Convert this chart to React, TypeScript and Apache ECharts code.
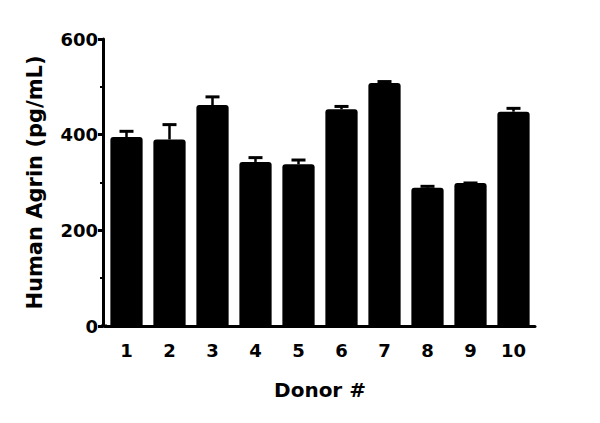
import React, { useEffect, useRef } from "react";
import * as echarts from "echarts";

const donors = ["1", "2", "3", "4", "5", "6", "7", "8", "9", "10"];
const means = [395, 390, 462, 343, 338, 453, 508, 289, 299, 448];
const sems = [12, 31, 17, 9, 9, 6, 3, 3, 0, 7];
const yTicks = { min: 0, max: 600, interval: 200 };

const FONT = "'DejaVu Sans', sans-serif";

export default function App() {
  const ref = useRef<HTMLDivElement>(null);
  useEffect(() => {
    const chart = echarts.init(ref.current!, null, { renderer: "svg" });
    chart.setOption({
      animation: false,
      backgroundColor: "#fff",
      grid: { left: 105, right: 65, top: 39, bottom: 97 },
      xAxis: {
        type: "category",
        data: donors,
        name: "Donor #",
        nameLocation: "middle",
        nameGap: 54,
        nameTextStyle: { fontFamily: FONT, fontWeight: "bold", fontSize: 20, color: "#000" },
        axisLine: { lineStyle: { color: "#000", width: 3 } },
        axisTick: { alignWithLabel: true, length: 7, lineStyle: { color: "#000", width: 3 } },
        axisLabel: { fontFamily: FONT, fontWeight: "bold", fontSize: 18, color: "#000", margin: 15 },
      },
      yAxis: {
        type: "value",
        min: yTicks.min,
        max: yTicks.max,
        interval: yTicks.interval,
        offset: 2,
        name: "Human Agrin (pg/mL)",
        nameLocation: "middle",
        nameGap: 58,
        nameTextStyle: { fontFamily: FONT, fontWeight: "bold", fontSize: 21, color: "#000" },
        axisLine: { show: true, lineStyle: { color: "#000", width: 3 } },
        axisTick: { show: true, length: 5, lineStyle: { color: "#000", width: 3 } },
        minorTick: { show: true, splitNumber: 2, length: 3, lineStyle: { color: "#000", width: 2 } },
        splitLine: { show: false },
        axisLabel: { fontFamily: FONT, fontWeight: "bold", fontSize: 18, color: "#000", margin: 5 },
      },
      graphic: [
        { type: "line", shape: { x1: 101, y1: 326, x2: 107, y2: 326 }, style: { stroke: "#000", lineWidth: 3 } },
      ],
      series: [
        {
          type: "bar",
          data: means,
          barWidth: "75%",
          itemStyle: { color: "#000", borderRadius: [3, 3, 0, 0] },
        },
        {
          type: "custom",
          data: means.map((m, i) => [i, m, sems[i]]),
          z: 1,
          renderItem: (params: any, api: any) => {
            const x = api.value(0);
            const m = api.value(1);
            const s = api.value(2);
            const p0 = api.coord([x, m]);
            const p1 = api.coord([x, m + s]);
            return {
              type: "group",
              children: [
                { type: "line", shape: { x1: p0[0], y1: p0[1], x2: p1[0], y2: p1[1] }, style: { stroke: "#000", lineWidth: 2.5 } },
                { type: "line", shape: { x1: p1[0] - 7, y1: p1[1], x2: p1[0] + 7, y2: p1[1] }, style: { stroke: "#000", lineWidth: 3 } },
              ],
            };
          },
        },
      ],
    });
    return () => chart.dispose();
  }, []);
  return <div ref={ref} style={{ width: 600, height: 423, margin: -8 }} />;
}
